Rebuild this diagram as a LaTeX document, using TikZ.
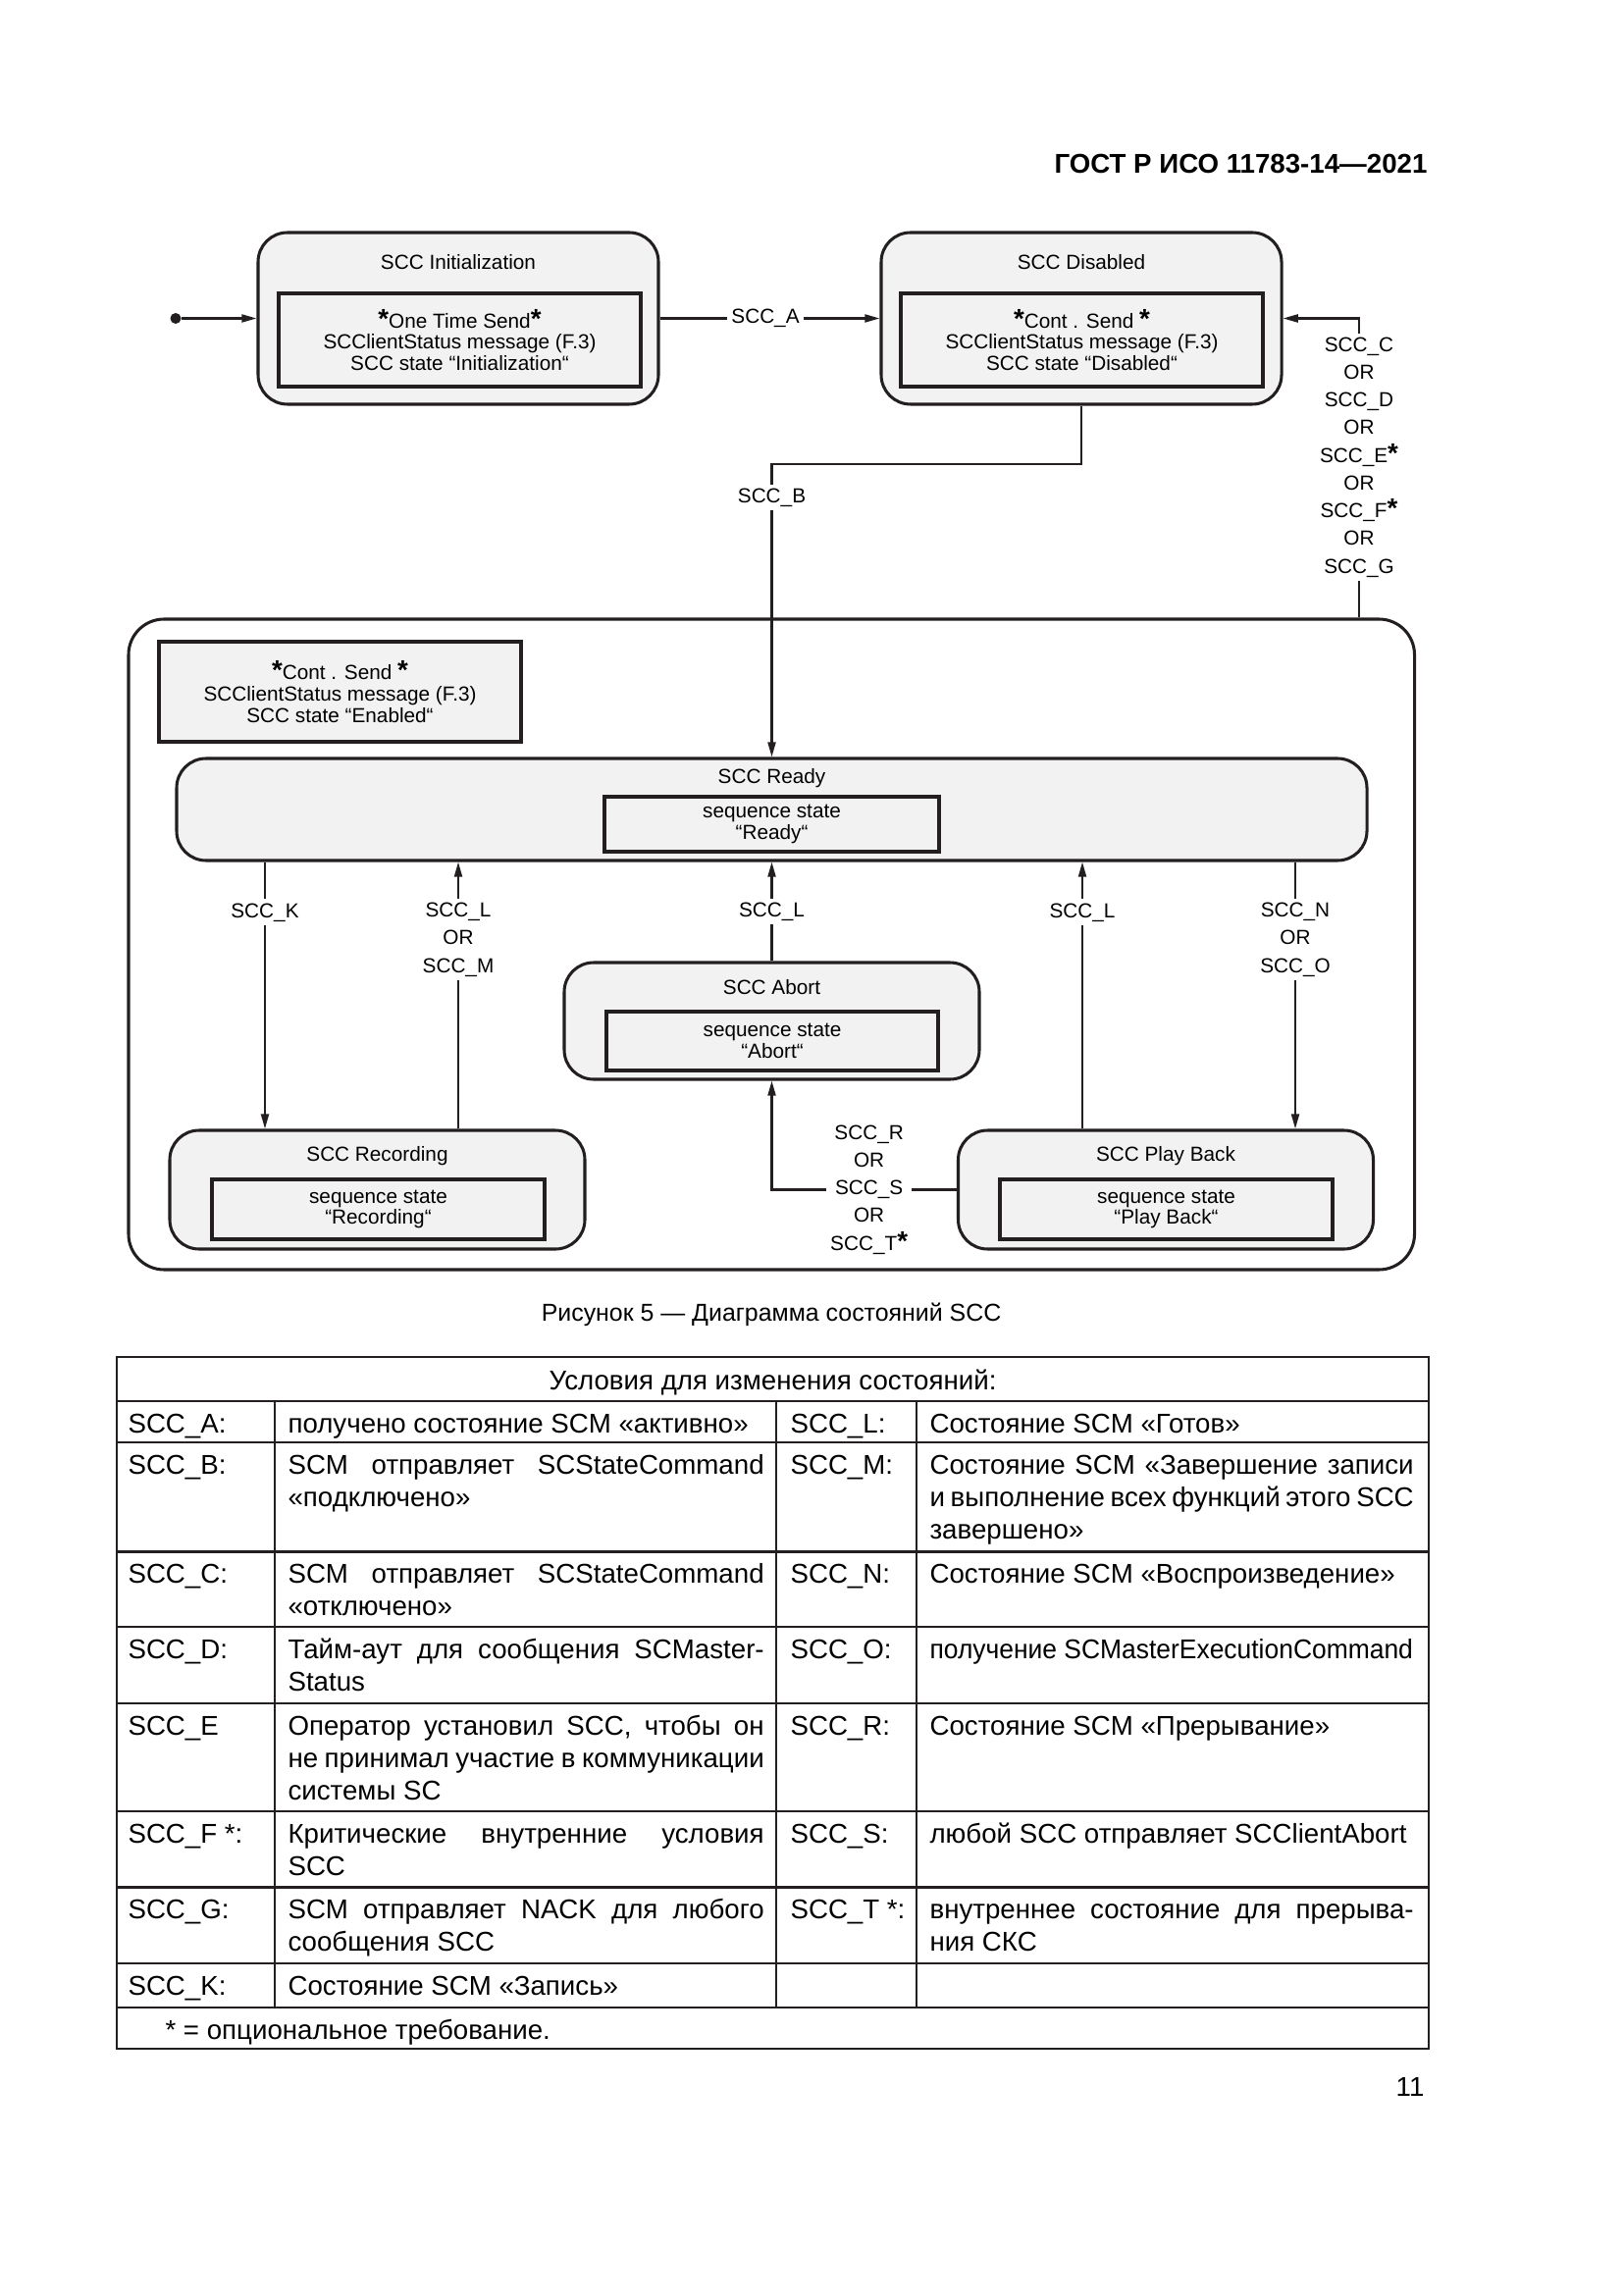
\documentclass[tikz,border=0pt]{standalone}
\usepackage{fontspec}
\usepackage{graphicx}
\setmainfont{Liberation Sans}
\usetikzlibrary{arrows.meta}

\definecolor{boxgray}{HTML}{F2F2F2}
\definecolor{inkc}{HTML}{231F20}

% 1 px of the page = 0.127mm
\newcommand*{\pw}[1]{#1*0.127mm}
\newcommand{\dfont}{\fontsize{7.5}{7.9}\selectfont}
\newcommand{\lfont}{\fontsize{7.5}{10.2}\selectfont}
\newcommand{\tfont}{\fontsize{10}{12.06}\selectfont}
\newcommand{\opt}{{\fontsize{10}{12}\selectfont\bfseries*}}
\newcommand{\colbw}{175.3pt}
\newcommand{\coldw}{178.2pt}
\newcommand{\jline}[2]{\makebox[#1][s]{#2}}

\tikzset{
  statebox/.style={draw=inkc, line width=1.1pt, fill=boxgray, rounded corners=3.8mm, inner sep=0pt},
  msgbox/.style={draw=inkc, line width=1.2pt, fill=boxgray, inner sep=0pt, align=center, font=\dfont},
  boxtitle/.style={font=\dfont, inner sep=0pt},
  startdot/.style={circle, fill=inkc, inner sep=0pt, minimum size=\pw{11}},
  conn/.style={draw=inkc, line width=0.75pt},
  arr/.style={conn, -{Triangle[length=5.5pt,width=2.9pt]}},
  lbl/.style={fill=white, inner sep=1.5pt, align=center, font=\lfont},
  cell/.style={anchor=base west, inner sep=0pt, font=\tfont},
  tabh/.style={draw=inkc, line width=1pt},
  tabv/.style={draw=inkc, line width=0.7pt},
}

\begin{document}
\begin{tikzpicture}[x=0.127mm, y=-0.127mm]
  \useasboundingbox (0,0) rectangle (1654,2339);

  % page header
  \node[anchor=east, inner sep=0pt, font=\fontsize{10}{12}\selectfont\bfseries] (gost) at (1455,167) {ГОСТ Р ИСО 11783-14—2021};

  % outer enabled state
  \node[statebox, fill=white, rounded corners=4.6mm, minimum width=\pw{1310.5}, minimum height=\pw{663}] (enab) at (786.25,962.5) {};
  \node[msgbox, minimum width=\pw{369}, minimum height=\pw{102}] (enabM) at (346.5,705) {\opt Cont . Send \opt\\SCClientStatus message (F.3)\\SCC state “Enabled“};

  % top states
  \node[statebox, minimum width=\pw{408}, minimum height=\pw{175}] (init) at (467,324.5) {};
  \node[boxtitle] (initT) at (467,267) {SCC Initialization};
  \node[msgbox, minimum width=\pw{369}, minimum height=\pw{95}] (initM) at (468.5,346.5) {\opt One Time Send\opt\\SCClientStatus message (F.3)\\SCC state “Initialization“};

  \node[statebox, minimum width=\pw{408}, minimum height=\pw{175}] (dis) at (1102,324.5) {};
  \node[boxtitle] (disT) at (1102,267) {SCC Disabled};
  \node[msgbox, minimum width=\pw{369}, minimum height=\pw{95}] (disM) at (1102.5,346.5) {\opt Cont . Send \opt\\SCClientStatus message (F.3)\\SCC state “Disabled“};

  % sequence states
  \node[statebox, minimum width=\pw{1213}, minimum height=\pw{104}] (ready) at (786.5,825) {};
  \node[boxtitle] (readyT) at (786.5,793) {SCC Ready};
  \node[msgbox, minimum width=\pw{341}, minimum height=\pw{56}] (readyM) at (786.5,840) {sequence state\\“Ready“};

  \node[statebox, minimum width=\pw{423}, minimum height=\pw{119}] (abort) at (786.5,1040.5) {};
  \node[boxtitle] (abortT) at (786.5,1006) {SCC Abort};
  \node[msgbox, minimum width=\pw{338}, minimum height=\pw{60}] (abortM) at (787,1061) {sequence state\\“Abort“};

  \node[statebox, minimum width=\pw{423}, minimum height=\pw{121}] (rec) at (384.5,1212.5) {};
  \node[boxtitle] (recT) at (384.5,1178) {SCC Recording};
  \node[msgbox, minimum width=\pw{339}, minimum height=\pw{61}] (recM) at (385.5,1232.5) {sequence state\\“Recording“};

  \node[statebox, minimum width=\pw{423}, minimum height=\pw{121}] (play) at (1188,1212.5) {};
  \node[boxtitle] (playT) at (1188,1178) {SCC Play Back};
  \node[msgbox, minimum width=\pw{339}, minimum height=\pw{61}] (playM) at (1188.5,1232.5) {sequence state\\“Play Back“};

  % connectors
  \node[startdot] (start) at (179,324.5) {};
  \coordinate (bk) at (1102,473);
  \coordinate (cgx) at (1385,0);
  \coordinate (kx) at (270,0);
  \coordinate (lmx) at (467,0);
  \coordinate (lpx) at (1103,0);
  \coordinate (nox) at (1320,0);

  \draw[arr] (start) -- (init.west);
  \draw[arr] (init.east) -- node[lbl, pos=0.48] (lA) {SCC\_A} (dis.west);
  \draw[arr] (dis.south) -- (bk) -| node[lbl, pos=0.557] (lB) {SCC\_B} (ready.north);
  \draw[arr] (enab.north -| cgx) |- node[lbl, pos=0.268] (lCG) {SCC\_C\\OR\\SCC\_D\\OR\\SCC\_E\opt\\OR\\SCC\_F\opt\\OR\\SCC\_G} (dis.east);

  \draw[arr] (ready.south -| kx) -- node[lbl, pos=0.189] (lK) {SCC\_K} (rec.north -| kx);
  \draw[arr] (rec.north -| lmx) -- node[lbl, pos=0.709] (lLM) {SCC\_L\\OR\\SCC\_M} (ready.south -| lmx);
  \draw[arr] (abort.north) -- node[lbl, pos=0.5] (lLa) {SCC\_L} (ready.south);
  \draw[arr] (play.north -| lpx) -- node[lbl, pos=0.811] (lLp) {SCC\_L} (ready.south -| lpx);
  \draw[arr] (ready.south -| nox) -- node[lbl, pos=0.291] (lNO) {SCC\_N\\OR\\SCC\_O} (play.north -| nox);
  \draw[arr] (play.west) -- node[lbl, pos=0.474] (lRST) {SCC\_R\\OR\\SCC\_S\\OR\\SCC\_T\opt} (play.west -| abort.south) -- (abort.south);

  % caption
  \node[inner sep=0pt, font=\fontsize{9}{11}\selectfont] (cap) at (786,1340) {Рисунок 5 — Диаграмма состояний SCC};

  % table of conditions
  \draw[tabh] (119,1383) rectangle (1456,2088);
  \foreach \y in {1428,1470,1581.5,1658,1736,1846,1923.5,2001,2046}
    \draw[tabh] (119,\y) -- (1456,\y);
  \foreach \x in {280,791,934}
    \draw[tabv] (\x,1428) -- (\x,2046);

  \node[anchor=base, inner sep=0pt, font=\tfont] (thead) at (787.5,1416) {Условия для изменения состояний:};

  \node[cell] (a1) at (130,1460) {SCC\_A:};
  \node[cell] (a2) at (293,1460) {получено состояние SCM «активно»};
  \node[cell] (a3) at (805,1460) {SCC\_L:};
  \node[cell] (a4) at (947,1460) {Состояние SCM «Готов»};

  \node[cell] (b1) at (130,1502) {SCC\_B:};
  \node[cell] (b2) at (293,1502) {\parbox[t]{\colbw}{\jline{\colbw}{SCM отправляет SCStateCommand}\\«подключено»}};
  \node[cell] (b3) at (805,1502) {SCC\_M:};
  \node[cell] (b4) at (947,1502) {\parbox[t]{\coldw}{\jline{\coldw}{Состояние SCM «Завершение записи}\\\jline{\coldw}{и выполнение всех функций этого SCC}\\завершено»}};

  \node[cell] (c1) at (130,1613.5) {SCC\_C:};
  \node[cell] (c2) at (293,1613.5) {\parbox[t]{\colbw}{\jline{\colbw}{SCM отправляет SCStateCommand}\\«отключено»}};
  \node[cell] (c3) at (805,1613.5) {SCC\_N:};
  \node[cell] (c4) at (947,1613.5) {Состояние SCM «Воспроизведение»};

  \node[cell] (d1) at (130,1690) {SCC\_D:};
  \node[cell] (d2) at (293,1690) {\parbox[t]{\colbw}{\jline{\colbw}{Тайм-аут для сообщения SCMaster-}\\Status}};
  \node[cell] (d3) at (805,1690) {SCC\_O:};
  \node[cell] (d4) at (947,1690) {\scalebox{0.955}[1]{получение SCMasterExecutionCommand}};

  \node[cell] (e1) at (130,1768) {SCC\_E};
  \node[cell] (e2) at (293,1768) {\parbox[t]{\colbw}{\jline{\colbw}{Оператор установил SCC, чтобы он}\\\jline{\colbw}{не принимал участие в коммуникации}\\системы SC}};
  \node[cell] (e3) at (805,1768) {SCC\_R:};
  \node[cell] (e4) at (947,1768) {Состояние SCM «Прерывание»};

  \node[cell] (f1) at (130,1878) {SCC\_F *:};
  \node[cell] (f2) at (293,1878) {\parbox[t]{\colbw}{\jline{\colbw}{Критические внутренние условия}\\SCC}};
  \node[cell] (f3) at (805,1878) {SCC\_S:};
  \node[cell] (f4) at (947,1878) {любой SCC отправляет SCClientAbort};

  \node[cell] (g1) at (130,1955.5) {SCC\_G:};
  \node[cell] (g2) at (293,1955.5) {\parbox[t]{\colbw}{\jline{\colbw}{SCM отправляет NACK для любого}\\сообщения SCC}};
  \node[cell] (g3) at (805,1955.5) {SCC\_T *:};
  \node[cell] (g4) at (947,1955.5) {\parbox[t]{\coldw}{\jline{\coldw}{внутреннее состояние для прерыва-}\\ния СКС}};

  \node[cell] (k1) at (130,2033) {SCC\_K:};
  \node[cell] (k2) at (293,2033) {Состояние SCM «Запись»};

  \node[cell] (foot) at (168,2078) {* = опциональное требование.};

  % page number
  \node[anchor=base east, inner sep=0pt, font=\tfont] (pnum) at (1452,2136) {11};
\end{tikzpicture}
\end{document}
